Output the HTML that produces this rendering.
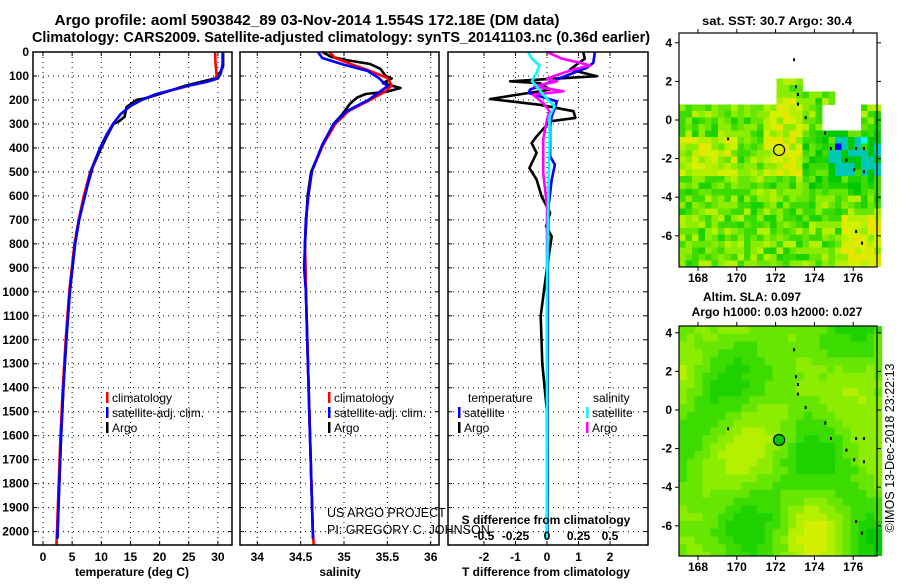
<!DOCTYPE html>
<html><head><meta charset="utf-8"><style>
body{margin:0;background:#fff}
svg text{font-family:"Liberation Sans",sans-serif}
.b{font-weight:bold}
</style></head><body>
<svg id="s" width="900" height="580" xmlns="http://www.w3.org/2000/svg">
<rect width="900" height="580" fill="#fff"/>
<text x="307" y="25" class="b" font-size="14.5" text-anchor="middle" textLength="505" lengthAdjust="spacingAndGlyphs">Argo profile: aoml 5903842_89 03-Nov-2014 1.554S 172.18E (DM data)</text>
<text x="341" y="42" class="b" font-size="14.5" text-anchor="middle" textLength="618" lengthAdjust="spacingAndGlyphs">Climatology: CARS2009. Satellite-adjusted climatology: synTS_20141103.nc (0.36d earlier)</text>
<g id="g"></g>
</svg>
<script>
// ---- data ----
const depthTicks=[0,100,200,300,400,500,600,700,800,900,1000,1100,1200,1300,1400,1500,1600,1700,1800,1900,2000];
const tempTicks=[0,5,10,15,20,25,30];
const salTicks=[34,34.5,35,35.5,36];
const tdTicks=[-2,-1,0,1,2];
const sdTicks=[-0.5,-0.25,0,0.25,0.5];
const latTicks=[4,2,0,-2,-4,-6];
const lonTicks=[168,170,172,174,176];
const tDepthClim=[0,50,100,115,125,140,150,175,200,225,260,300,350,400,500,600,700,800,1000,1200,1400,1600,1800,2000,2055];
const tClim=[29.5,29.6,29.8,29.4,28,25,23.5,19.5,16.9,15,13.3,12,10.8,9.8,8.1,7.0,6.1,5.4,4.5,3.9,3.4,3.0,2.7,2.4,2.3];
const tDepthSat=[0,50,90,110,125,140,150,175,200,225,260,300,350,400,500,600,700,800,1000,1200,1400,1600,1800,2000,2030];
const tSat=[30.8,30.8,30.5,30,28,25,23.5,19.5,16.9,15,13.3,12,10.8,9.8,8.2,7.2,6.2,5.5,4.6,4.0,3.5,3.1,2.8,2.5,2.45];
const tDepthArgo=[0,60,90,110,125,140,175,190,200,230,270,290,300,350,400,480,500,600,700,800,1000,1200,1400,1600,1800,2000,2030];
const tArgo=[30.9,30.9,30.3,29.5,27,24.5,20,18,16,14.3,14.0,13,12.1,11,10,8.5,8.3,7.1,6.2,5.5,4.6,4.0,3.5,3.1,2.8,2.5,2.45];
const sDepthClim=[0,25,53,79,108,140,164,200,247,300,386,497,594,698,803,1000,1500,2000,2055];
const sClim=[34.83,34.9,35.1,35.3,35.5,35.55,35.48,35.3,35.05,34.9,34.76,34.63,34.59,34.56,34.55,34.56,34.6,34.64,34.65];
const sDepthSat=[0,25,53,79,108,143,164,200,247,300,386,497,594,698,803,900,1000,1500,2000,2030];
const sSat=[34.7,34.75,35.0,35.27,35.4,35.5,35.42,35.28,35.03,34.88,34.75,34.63,34.59,34.56,34.55,34.54,34.56,34.6,34.64,34.64];
const sDepthArgo=[0,20,35,50,70,100,110,130,150,165,175,190,215,260,300,400,500,600,800,1000,1500,2000,2030];
const sArgo=[34.75,34.85,35.05,35.3,35.42,35.48,35.55,35.45,35.65,35.5,35.25,35.15,35.07,34.98,34.88,34.74,34.62,34.58,34.55,34.56,34.6,34.64,34.64];
const dDepthT=[0,28,73,101,122,130,157,196,220,247,275,289,352,380,421,484,532,602,671,727,769,900,1100,1300,1500,1800,2030];
const dTArgo=[1.15,1.2,0.73,1.58,-1.17,-0.22,0.1,-1.8,-0.22,0.84,0.9,0.1,-0.33,-0.49,-0.33,-0.56,-0.33,-0.17,0.1,-0.03,0.15,0.0,-0.2,-0.15,0.0,0.02,0.0];
const dDepthTS=[0,45,66,87,130,157,171,185,206,234,268,310,435,470,532,643,900,1500,2030];
const dTSat=[1.52,1.47,1.26,0.84,0,-0.54,-0.58,-0.22,0.31,0.25,0.15,0.1,0.1,0.25,0.15,0.05,0.03,0.02,0.02];
const dDepthS=[0,28,45,56,73,101,112,122,143,164,178,213,247,282,365,504,643,1000,1500,2030];
const dSArgo=[0.0,0.12,0.26,0.34,0.21,0.05,0.0,0.08,-0.1,0.13,-0.11,-0.03,0.02,0.0,-0.03,-0.03,0.0,0.0,0.0,0.0];
const dDepthSS=[0,28,56,84,122,143,178,227,268,365,600,1000,2030];
const dSSat=[-0.15,-0.12,-0.06,-0.08,-0.12,-0.08,-0.03,0.06,0.02,0.02,0.01,0.0,0.0];
const argoLon=172.18, argoLat=-1.554;

const NS="http://www.w3.org/2000/svg";
const G=document.getElementById('g');
function el(t,a,p){const e=document.createElementNS(NS,t);for(const k in a)e.setAttribute(k,a[k]);(p||G).appendChild(e);return e;}
function tx(x,y,s,a,p){const e=el('text',Object.assign({x:x,y:y,'font-size':12,'font-weight':'bold'},a||{}),p);e.textContent=s;return e;}
const yD=d=>52+0.2398*d;
const xT=t=>43+5.83*t;
const xS=s=>257.3+86.7*(s-34);
const xTD=v=>547+31.5*v;
const xSD=v=>547+126*v;

function panel(x0,x1,name){
  const g=el('g',{});
  
  
  return g;
}
function grid(g,x0,x1,xs){
  depthTicks.forEach(d=>{const l=el('line',{x1:x0,x2:x1,y1:yD(d),y2:yD(d),stroke:'#000','stroke-dasharray':'1 4'},g);
    
    el('line',{x1:x0,x2:x0+4,y1:yD(d),y2:yD(d),stroke:'#000'},g);el('line',{x1:x1-4,x2:x1,y1:yD(d),y2:yD(d),stroke:'#000'},g);});
  xs.forEach(x=>{const l=el('line',{x1:x,x2:x,y1:52,y2:545,stroke:'#000','stroke-dasharray':'1 4'},g);
    
    el('line',{x1:x,x2:x,y1:545,y2:541,stroke:'#000'},g);el('line',{x1:x,x2:x,y1:52,y2:56,stroke:'#000'},g);});
}
function line(g,ds,vs,fx,col,name){
  let p='';ds.forEach((d,i)=>{p+=(i?'L':'M')+fx(vs[i]).toFixed(1)+','+yD(d).toFixed(1);});
  const e=el('path',{d:p,fill:'none',stroke:col,'stroke-width':2.6,'stroke-linejoin':'round'},g);
  
}
function frame(g,x0,x1){el('rect',{x:x0,y:52,width:x1-x0,height:493,fill:'none',stroke:'#000','stroke-width':1.5},g);}
function legItem(g,x,y,col,s,name){
  el('rect',{x:x,y:y-10,width:2.5,height:11,fill:col},g);
  const t=tx(x+6,y,s,{'font-size':12,'font-weight':'normal'},g);
  
}

depthTicks.forEach(d=>{const t=tx(29,yD(d)+4,String(d),{'text-anchor':'end'});});

const p1=panel(33,232,'temperature-panel');
grid(p1,33,232,tempTicks.map(xT));
line(p1,tDepthArgo,tArgo,xT,'#000','argo-temperature-line');
line(p1,tDepthClim,tClim,xT,'#f00','climatology-temperature-line');
line(p1,tDepthSat,tSat,xT,'#00f','satellite-temperature-line');
frame(p1,33,232);
tempTicks.forEach(v=>{const t=tx(xT(v),561,String(v),{'text-anchor':'middle'},p1);});
let a=tx(132,576,'temperature (deg C)',{'text-anchor':'middle'},p1);
legItem(p1,106,402,'#f00','climatology','legend-climatology');
legItem(p1,106,417,'#00f','satellite-adj. clim.','legend-satellite');
legItem(p1,106,432,'#000','Argo','legend-argo');

const p2=panel(240,439,'salinity-panel');
grid(p2,240,439,salTicks.map(xS));
line(p2,sDepthArgo,sArgo,xS,'#000','argo-salinity-line');
line(p2,sDepthClim,sClim,xS,'#f00','climatology-salinity-line');
line(p2,sDepthSat,sSat,xS,'#00f','satellite-salinity-line');
frame(p2,240,439);
salTicks.forEach(v=>{const t=tx(xS(v),561,String(v),{'text-anchor':'middle'},p2);});
a=tx(340,576,'salinity',{'text-anchor':'middle'},p2);
legItem(p2,328,402,'#f00','climatology','legend-climatology-2');
legItem(p2,328,417,'#00f','satellite-adj. clim.','legend-satellite-2');
legItem(p2,328,432,'#000','Argo','legend-argo-2');
a=tx(327,517,'US ARGO PROJECT',{'font-weight':'normal','font-size':12.5});
a=tx(327,534,'PI: GREGORY C. JOHNSON',{'font-weight':'normal','font-size':12.5});

const p3=panel(448,648,'difference-panel');
grid(p3,448,648,tdTicks.map(xTD));
line(p3,dDepthT,dTArgo,xTD,'#000','argo-temperature-difference-line');
line(p3,dDepthTS,dTSat,xTD,'#00f','satellite-temperature-difference-line');
line(p3,dDepthS,dSArgo,xSD,'#f0f','argo-salinity-difference-line');
line(p3,dDepthSS,dSSat,xSD,'#0ff','satellite-salinity-difference-line');
frame(p3,448,648);
tdTicks.forEach(v=>{const t=tx(xTD(v),561,String(v),{'text-anchor':'middle'},p3);});
sdTicks.forEach(v=>{const t=tx(xSD(v),540,String(v),{'text-anchor':'middle'},p3);});
a=tx(546,524,'S difference from climatology',{'text-anchor':'middle'},p3);
a=tx(546,576,'T difference from climatology',{'text-anchor':'middle'},p3);
a=tx(468,402,'temperature',{'font-weight':'normal'},p3);
a=tx(593,402,'salinity',{'font-weight':'normal'},p3);
legItem(p3,458,417,'#00f','satellite','legend-t-satellite');
legItem(p3,458,432,'#000','Argo','legend-t-argo');
legItem(p3,586,417,'#0ff','satellite','legend-s-satellite');
legItem(p3,586,432,'#f0f','Argo','legend-s-argo');

// ---- maps ----
function hash(i,j,k){let h=(i*374761393+j*668265263+k*2147483647)|0;h=(h^(h>>>13))*1274126177;h=h^(h>>>16);return ((h>>>0)%1000)/1000;}
const pal=['#00c800','#1ed200','#3cdc00','#66e600','#8ced00','#b4f000','#d2f000','#e6e600'];
function mapBox(y0,h,off,name,kind){
  const g=el('g',{});
  const x0=679,x1=877,y1=y0+h;
  const lonX=l=>698+19.4*(l-168), latY=la=>y0+off-19.3*la;
  const cs=kind==1?6.5:7.8;
  for(let j=0;j*cs<y1-y0;j++)for(let i=0;i*cs<x1-x0;i++){
    const cx=x0+i*cs,cy=y0+j*cs;
    const lon=167+(i+0.5)*cs/19.4, lat=(y0+off-(cy+cs/2))/19.3;
    let c;
    if(kind==1){
      let top=lon<172?0.9:(lon<173.5?2.1:(lon<175?1.5:0.9));
      if(lon>174.5&&lon<176.5&&lat>-0.6&&lat<0.9) continue;
      if(lat>top) continue;
      let r=hash(i,j,1);
      let base=lat<-5&&lon>175.5?6:(lat>-3&&lat<1&&lon>171.5&&lon<173.5?6:(lon<170&&lat>-3&&lat<-1?5:3));
      if(lon>173.5&&lat<-0.5&&lat>-4)base=1;
      let k=Math.max(0,Math.min(7,Math.round(base+(r-0.5)*4)));
      c=pal[k];
      if(lon>174.7&&lat<-1&&lat>-3&&hash(i,j,2)>0.45)c=hash(i,j,3)>0.9?'#00ffff':'#00c8b4';
      if(lon>175&&lon<175.4&&lat<-1.1&&lat>-1.4)c='#0000ff';
    } else {
      let v=0.5+0.25*Math.sin((lon-170)*1.1)*Math.cos(lat*0.55)+0.2*Math.sin((lon-173.5)*0.9+lat*0.7)+0.15*Math.cos((lat+1)*0.9-(lon-172)*0.6);
      v+=(hash(i,j,5)-0.5)*0.08;
      let k=Math.max(0,Math.min(6,Math.round(v*6)));
      c=pal[k];
    }
    el('rect',{x:cx.toFixed(1),y:cy.toFixed(1),width:cs+0.4,height:Math.min(cs+0.4,y1-cy),fill:c},g);
  }
  [[172.9,3.2],[173.0,1.8],[173.1,1.4],[173.1,0.9],[173.5,0.2],[174.5,-0.6],[174.8,-1.4],[175.6,-2.0],[176.1,-1.4],[176.5,-1.4],[176.0,-2.5],[176.5,-2.6],[169.5,-0.9],[176.1,-5.7],[176.4,-6.3]].forEach(p=>{
    el('rect',{x:lonX(p[0]),y:latY(p[1]),width:2,height:3,fill:'#000'},g);});
  const cir=el('circle',{cx:lonX(argoLon),cy:latY(argoLat),r:5.5,fill:kind==2?'#00c800':'none',stroke:'#000','stroke-width':1.2},g);
  
  el('rect',{x:x0,y:y0,width:x1-x0,height:y1-y0,fill:'none',stroke:'#000','stroke-width':1.2},g);
  latTicks.forEach(la=>{const y=latY(la);el('line',{x1:x0-4,x2:x0,y1:y,y2:y,stroke:'#000'},g);el('line',{x1:x1,x2:x1+4,y1:y,y2:y,stroke:'#000'},g);
    const t=tx(672,y+4,String(la),{'text-anchor':'end'},g);});
  lonTicks.forEach(lo=>{const x=lonX(lo);el('line',{x1:x,x2:x,y1:y1,y2:y1+4,stroke:'#000'},g);el('line',{x1:x,x2:x,y1:y0-4,y2:y0,stroke:'#000'},g);
    const t=tx(x,y1+15,String(lo),{'text-anchor':'middle'},g);});
}
mapBox(33,234,87,'sst-map',1);
mapBox(326,230,84,'sla-map',2);
a=tx(777,25,'sat. SST: 30.7 Argo: 30.4',{'text-anchor':'middle',textLength:150,lengthAdjust:'spacingAndGlyphs'});
a=tx(752,301,'Altim. SLA: 0.097',{'text-anchor':'middle'});
a=tx(777,316,'Argo h1000: 0.03 h2000: 0.027',{'text-anchor':'middle'});
a=tx(894,448,'©IMOS 13-Dec-2018 23:22:13',{'text-anchor':'middle','font-weight':'normal','font-size':12.5,transform:'rotate(-90 894 448)'});
</script>
</body></html>
